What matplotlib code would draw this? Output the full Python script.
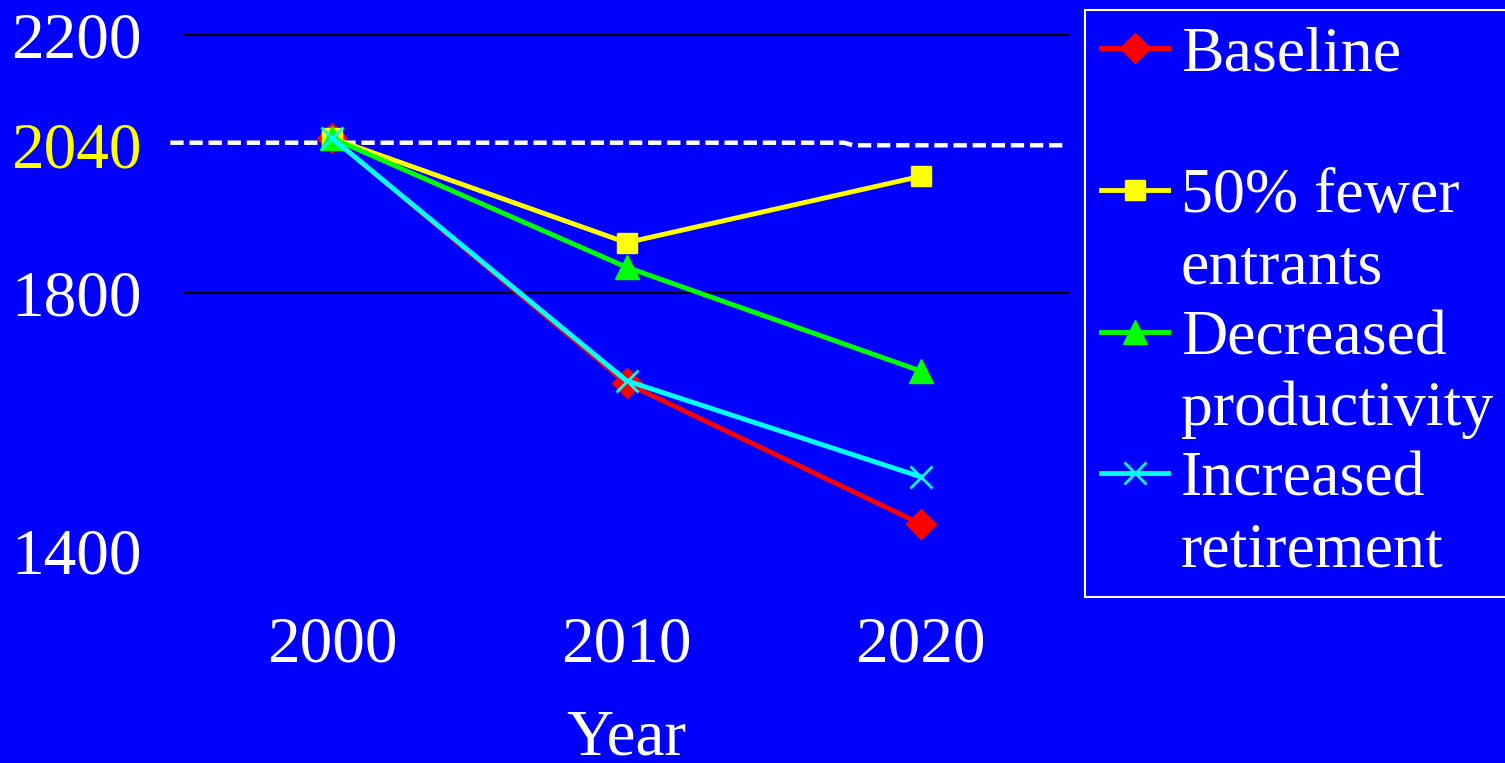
import matplotlib
matplotlib.use('Agg')
import matplotlib.pyplot as plt
from matplotlib.lines import Line2D

plt.rcParams['font.family'] = ['Liberation Serif', 'DejaVu Serif']

BG = '#0000FF'

years = ['2000', '2010', '2020']
baseline = [2040, 1660, 1442]
fewer_entrants = [2040, 1878, 1981]
decreased_prod = [2040, 1840, 1679]
increased_ret = [2040, 1664, 1515]

# dashed reference (~2040 line drawn in the original)
ref_x = [-0.55, 1.74, 1.77, 2.49]
ref_y = [2033, 2033, 2029, 2029]

y_ticks = [1400, 1800, 2200]
grid_levels = [1800, 2200]

SERIES = [
    ('Baseline', baseline, '#FF0000', 'D', 15),
    ('50% fewer\nentrants', fewer_entrants, '#FFFF00', 's', 15),
    ('Decreased\nproductivity', decreased_prod, '#00FF00', '^', 17),
    ('Increased\nretirement', increased_ret, '#00FFFF', 'x', 16),
]

FS = 47
LEG_FS = 46

fig = plt.figure(figsize=(15.05, 7.63), dpi=100)
fig.patch.set_facecolor(BG)
ax = fig.add_axes([185 / 1505, 1 - 551 / 763, (1068 - 185) / 1505, (551 - 35) / 763])
ax.set_facecolor(BG)

x = list(range(len(years)))
for lv in grid_levels:
    ax.axhline(lv, color='black', linewidth=1.5, zorder=1, clip_on=False)

ax.plot(ref_x, ref_y, color='white', linewidth=3.2, linestyle=(0, (3.0, 1.3)),
        clip_on=False, zorder=2)

handles = []
for name, vals, color, marker, ms in SERIES:
    mew = 2 if marker == 'x' else 1
    ax.plot(x, vals, color=color, linewidth=3.5, marker=marker, markersize=ms,
            markeredgewidth=mew, markeredgecolor=color, zorder=3)
    h = Line2D([], [], color=color, linewidth=3.5, marker=marker, markersize=ms,
               markeredgewidth=mew, markeredgecolor=color)
    lines = name.split('\n')
    handles.append((h, lines[0]))
    blank = Line2D([], [], linestyle='none')
    handles.append((blank, lines[1] if len(lines) > 1 else ' '))

ax.set_xlim(-0.5, 2.5)
ax.set_ylim(1400, 2200)
ax.set_xticks(x)
ax.set_xticklabels(years)
ax.set_yticks(y_ticks)
ax.tick_params(axis='both', length=0, colors='white', labelsize=FS)
ax.tick_params(axis='y', pad=31)
ax.tick_params(axis='x', pad=47)
for sp in ax.spines.values():
    sp.set_visible(False)

ax.annotate('2040', xy=(0, 2040), xycoords=('axes fraction', 'data'),
            xytext=(-31, -10), textcoords='offset points',
            ha='right', va='center', color='#FFFF00', fontsize=FS)

ax.set_xlabel('Year', color='white', fontsize=FS, labelpad=24)

leg = fig.legend([h for h, _ in handles], [l for _, l in handles],
                 loc='upper left', bbox_to_anchor=(1085 / 1505, 1 - 10 / 763),
                 borderaxespad=0, fontsize=LEG_FS, frameon=True, fancybox=False,
                 facecolor=BG, edgecolor='white', framealpha=1,
                 labelspacing=0.19, handlelength=1.05, handletextpad=0.2,
                 borderpad=0.25, labelcolor='white')
leg.get_frame().set_linewidth(1.5)

fig.savefig('out.png', dpi=100, facecolor=BG)
